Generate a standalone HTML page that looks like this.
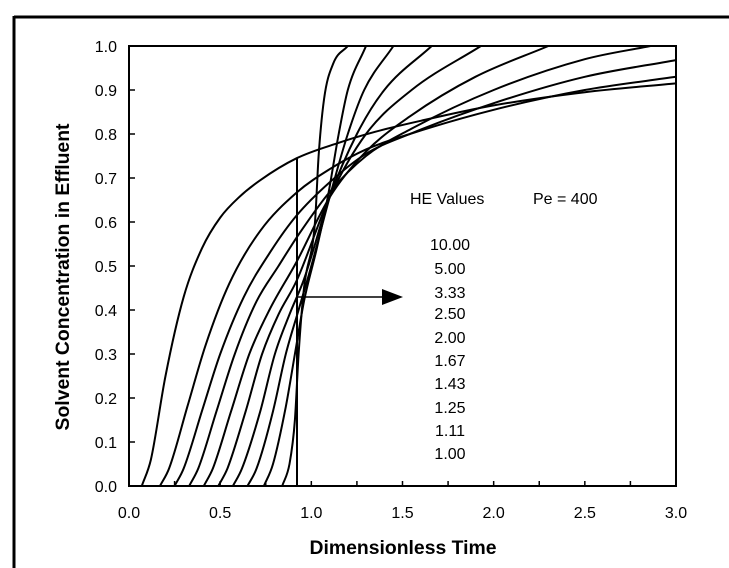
<!DOCTYPE html>
<html><head><meta charset="utf-8"><style>
html,body{margin:0;padding:0;background:#fff;}
svg{display:block;font-family:"Liberation Sans",Arial,sans-serif;}
</style></head><body>
<svg id="s" width="729" height="568" viewBox="0 0 729 568" xmlns="http://www.w3.org/2000/svg">
<rect width="729" height="568" fill="#fff"/>
<line x1="14" y1="17" x2="729" y2="17" stroke="#000" stroke-width="3"/>
<line x1="14" y1="16" x2="14" y2="568" stroke="#000" stroke-width="3"/>
<rect x="129" y="46" width="547" height="440" fill="none" stroke="#000" stroke-width="2"/>
<g id="ticks" stroke="#000" stroke-width="1.5"></g>
<g font-size="16" fill="#000" text-anchor="end" id="ylab"></g>
<g font-size="16" fill="#000" text-anchor="middle" id="xlab"></g>
<text x="403" y="554" font-size="19" font-weight="bold" text-anchor="middle" textLength="187" lengthAdjust="spacingAndGlyphs">Dimensionless Time</text>
<text transform="translate(69,277) rotate(-90)" font-size="19" font-weight="bold" text-anchor="middle" textLength="307" lengthAdjust="spacingAndGlyphs">Solvent Concentration in Effluent</text>
<g id="curves" fill="none" stroke="#000" stroke-width="2"></g>
<line x1="297" y1="158" x2="297" y2="486" stroke="#000" stroke-width="2"/>
<line x1="297" y1="297" x2="385" y2="297" stroke="#000" stroke-width="1.5"/>
<polygon points="382,289 403,297 382,305" fill="#000"/>
<g font-size="16" fill="#000">
<text x="410" y="204">HE Values</text>
<text x="533" y="204">Pe = 400</text>
</g>
<g font-size="16" fill="#000" text-anchor="middle">
<text x="450" y="250">10.00</text>
<text x="450" y="274">5.00</text>
<text x="450" y="298">3.33</text>
<text x="450" y="319">2.50</text>
<text x="450" y="343">2.00</text>
<text x="450" y="366">1.67</text>
<text x="450" y="389">1.43</text>
<text x="450" y="413">1.25</text>
<text x="450" y="436">1.11</text>
<text x="450" y="459">1.00</text>
</g>
</svg>
<script>
var X=function(t){return 129+t*182.33;},Y=function(c){return 486-c*440;};
var NS="http://www.w3.org/2000/svg";
function el(p,n,a,txt){var e=document.createElementNS(NS,n);for(var k in a)e.setAttribute(k,a[k]);if(txt)e.textContent=txt;document.getElementById(p).appendChild(e);}
for(var i=0;i<=10;i++){var y=Y(i/10);el('ticks','line',{x1:129,y1:y,x2:135,y2:y});el('ylab','text',{x:117,y:y+6},(i/10).toFixed(1));}
for(var i=0;i<=12;i++){var x=X(i*0.25);el('ticks','line',{x1:x,y1:486,x2:x,y2:481});if(i%2==0)el('xlab','text',{x:x,y:518},(i*0.25).toFixed(1));}
var C=[
[[0.07,0],[0.12,0.06],[0.2,0.25],[0.3,0.43],[0.4,0.54],[0.5,0.61],[0.6,0.655],[0.72,0.695],[0.92,0.745],[1.15,0.78],[1.35,0.805],[1.6,0.83],[2.0,0.865],[2.5,0.895],[3.0,0.915]],
[[0.17,0],[0.22,0.04],[0.32,0.18],[0.42,0.32],[0.55,0.46],[0.72,0.58],[0.92,0.667],[1.1,0.72],[1.3,0.765],[1.54,0.80],[2.0,0.855],[2.5,0.9],[3.0,0.93]],
[[0.25,0],[0.3,0.04],[0.4,0.17],[0.5,0.3],[0.63,0.43],[0.78,0.535],[0.92,0.615],[1.1,0.69],[1.3,0.755],[1.54,0.80],[2.0,0.87],[2.5,0.93],[3.0,0.968]],
[[0.33,0],[0.38,0.04],[0.48,0.17],[0.58,0.3],[0.70,0.42],[0.82,0.5],[0.92,0.565],[1.1,0.668],[1.3,0.75],[1.54,0.81],[2.0,0.9],[2.5,0.97],[2.86,1.0]],
[[0.41,0],[0.46,0.04],[0.56,0.17],[0.66,0.3],[0.77,0.40],[0.92,0.51],[1.1,0.656],[1.3,0.76],[1.54,0.84],[1.9,0.93],[2.3,1.0]],
[[0.49,0],[0.54,0.04],[0.64,0.17],[0.73,0.3],[0.82,0.39],[0.92,0.467],[1.1,0.656],[1.3,0.8],[1.55,0.9],[1.93,1.0]],
[[0.57,0],[0.62,0.04],[0.72,0.17],[0.80,0.3],[0.88,0.39],[0.96,0.47],[1.1,0.656],[1.25,0.8],[1.4,0.9],[1.66,1.0]],
[[0.65,0],[0.70,0.04],[0.79,0.17],[0.86,0.3],[0.93,0.40],[1.0,0.50],[1.1,0.656],[1.2,0.8],[1.29,0.9],[1.45,1.0]],
[[0.74,0],[0.79,0.05],[0.86,0.18],[0.91,0.3],[0.96,0.42],[1.03,0.54],[1.09,0.656],[1.15,0.8],[1.2,0.9],[1.3,1.0]],
[[0.84,0],[0.88,0.05],[0.91,0.15],[0.93,0.3],[0.96,0.45],[1.02,0.6],[1.04,0.75],[1.07,0.88],[1.12,0.96],[1.2,1.0]]
];
function mono(p){var n=p.length,d=[],m=[];for(var i=0;i<n-1;i++)d.push((p[i+1][1]-p[i][1])/(p[i+1][0]-p[i][0]));
m[0]=d[0];m[n-1]=d[n-2];for(var i=1;i<n-1;i++){m[i]=(d[i-1]*d[i]<=0)?0:(d[i-1]+d[i])/2;var a=m[i]/d[i-1],b=m[i]/d[i];if(a*a+b*b>9){var t=3/Math.sqrt(a*a+b*b);m[i]=t*a*d[i-1];}}
var s="M"+X(p[0][0]).toFixed(1)+","+Y(p[0][1]).toFixed(1);
for(var i=0;i<n-1;i++){var h=p[i+1][0]-p[i][0];
s+=" C"+X(p[i][0]+h/3).toFixed(1)+","+Y(p[i][1]+m[i]*h/3).toFixed(1)+" "+X(p[i+1][0]-h/3).toFixed(1)+","+Y(p[i+1][1]-m[i+1]*h/3).toFixed(1)+" "+X(p[i+1][0]).toFixed(1)+","+Y(p[i+1][1]).toFixed(1);}
return s;}
C.forEach(function(p){el('curves','path',{d:mono(p)});});
</script>
</body></html>
